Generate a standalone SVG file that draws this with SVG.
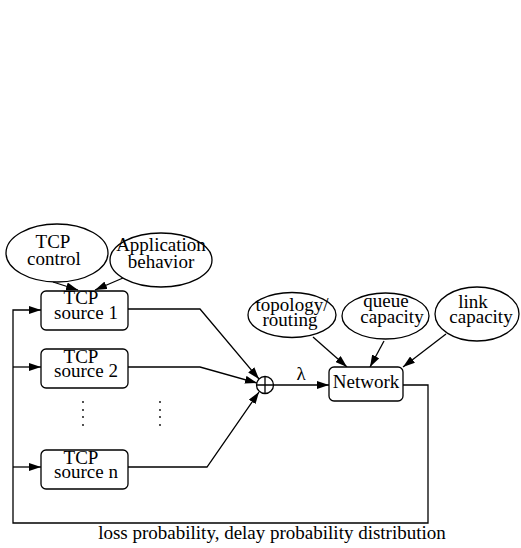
<svg xmlns="http://www.w3.org/2000/svg" width="521" height="548" viewBox="0 0 521 548">
<style>
.t text{font-size:19px;fill:#000;text-anchor:middle}
.n{fill:#fff;stroke:#000;stroke-width:1.3}
.c{fill:none;stroke:#000;stroke-width:1.3}
</style>
<defs>
<marker id="a" viewBox="0 0 12 8" refX="12" refY="4" markerWidth="12" markerHeight="8" markerUnits="userSpaceOnUse" orient="auto"><path d="M0,0L12,4L0,8z" fill="#000"/></marker>
</defs>
<rect width="521" height="548" fill="#fff"/>
<g id="connectors">
<path class="c" d="M53,282L78,290" marker-end="url(#a)"/>
<path class="c" d="M123,278L95,290" marker-end="url(#a)"/>
<path class="c" d="M128,309H200L259,379" marker-end="url(#a)"/>
<path class="c" d="M128,367H200L257,383" marker-end="url(#a)"/>
<path class="c" d="M128,467H207L259,392" marker-end="url(#a)"/>
<path class="c" d="M274,385H329" marker-end="url(#a)"/>
<path class="c" d="M313,337L347,367" marker-end="url(#a)"/>
<path class="c" d="M384,341L370,367" marker-end="url(#a)"/>
<path class="c" d="M446,334L403,367" marker-end="url(#a)"/>
<path class="c" d="M403,385H428V523H13V310H41" marker-end="url(#a)"/>
<path class="c" d="M13,367H41" marker-end="url(#a)"/>
<path class="c" d="M13,467H41" marker-end="url(#a)"/>
</g>
<g class="t" font-family="'Liberation Serif', 'Times New Roman', serif">
<g id="tcp-control"><ellipse class="n" cx="57" cy="253" rx="51" ry="29"/><text x="53" y="248">TCP</text><text x="54" y="265">control</text></g>
<g id="app-behavior"><ellipse class="n" cx="161" cy="260" rx="51" ry="27"/><text x="161" y="251">Application</text><text x="161" y="268">behavior</text></g>
<g id="src1"><rect class="n" x="41" y="291" width="87" height="39" rx="5"/><text x="81" y="304">TCP</text><text x="86" y="319">source 1</text></g>
<g id="src2"><rect class="n" x="41" y="349" width="87" height="39" rx="5"/><text x="81" y="363">TCP</text><text x="86" y="377">source 2</text></g>
<g id="srcn"><rect class="n" x="41" y="450" width="87" height="39" rx="5"/><text x="81" y="464">TCP</text><text x="86" y="478">source n</text></g>
<g id="dots" fill="#000"><circle cx="83" cy="402" r="0.9"/><circle cx="83" cy="410" r="0.9"/><circle cx="83" cy="417" r="0.9"/><circle cx="83" cy="425" r="0.9"/><circle cx="160" cy="402" r="0.9"/><circle cx="160" cy="410" r="0.9"/><circle cx="160" cy="417" r="0.9"/><circle cx="160" cy="425" r="0.9"/></g>
<g id="sum"><circle class="n" cx="265" cy="385" r="8.5"/><path class="c" d="M256.5,385H273.5M265,376.5V393.5"/></g>
<g id="lambda"><text x="301" y="380">λ</text></g>
<g id="network"><rect class="n" x="329" y="367" width="74" height="34" rx="5"/><text x="366" y="388">Network</text></g>
<g id="topology"><ellipse class="n" cx="292" cy="315" rx="44" ry="22.5"/><text x="292" y="311">topology/</text><text x="290" y="326">routing</text></g>
<g id="queue"><ellipse class="n" cx="385.5" cy="316" rx="43.5" ry="23"/><text x="386" y="307">queue</text><text x="392" y="323">capacity</text></g>
<g id="link"><ellipse class="n" cx="477" cy="314" rx="42" ry="27"/><text x="473" y="308">link</text><text x="481" y="323">capacity</text></g>
<g id="caption"><text x="272" y="539">loss probability, delay probability distribution</text></g>
</g>
</svg>
